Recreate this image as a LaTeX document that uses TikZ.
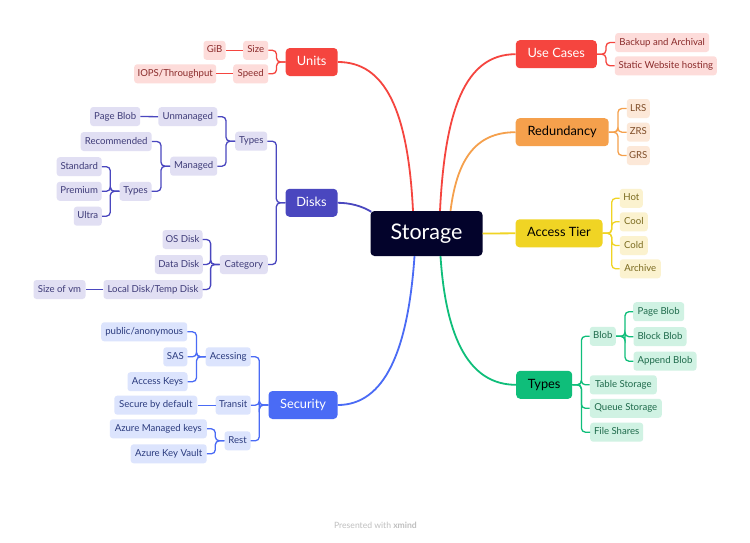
\documentclass[tikz,border=0pt]{standalone}
\usepackage{fontspec}
\setmainfont{Lato}
\usetikzlibrary{calc}
\definecolor{cRed}{HTML}{F5453F}
\definecolor{fRed}{HTML}{FDDCDA}
\definecolor{tRed}{HTML}{8A2A2A}
\definecolor{cPur}{HTML}{4A47BF}
\definecolor{fPur}{HTML}{E1DFF3}
\definecolor{tPur}{HTML}{3E3B78}
\definecolor{cBlu}{HTML}{4A6BF5}
\definecolor{fBlu}{HTML}{DCE4FD}
\definecolor{tBlu}{HTML}{2B3B7E}
\definecolor{cOra}{HTML}{F5A04C}
\definecolor{fOra}{HTML}{FCE8D8}
\definecolor{tOra}{HTML}{7D4B25}
\definecolor{cYel}{HTML}{F0D424}
\definecolor{fYel}{HTML}{FBF2CF}
\definecolor{tYel}{HTML}{7A6A1E}
\definecolor{cGre}{HTML}{0FBE7A}
\definecolor{fGre}{HTML}{D0F2E3}
\definecolor{tGre}{HTML}{1E6A4B}
\definecolor{cDark}{HTML}{03032B}
\tikzset{
  sub/.style={rounded corners=3pt, inner sep=0pt, minimum height=19pt,
    font=\fontsize{9.6}{10}\selectfont, text height=7pt, text depth=2pt},
  rsub/.style={sub, fill=fRed, text=tRed},
  psub/.style={sub, fill=fPur, text=tPur},
  bsub/.style={sub, fill=fBlu, text=tBlu},
  osub/.style={sub, fill=fOra, text=tOra},
  ysub/.style={sub, fill=fYel, text=tYel},
  gsub/.style={sub, fill=fGre, text=tGre},
  topic/.style={rounded corners=4pt, inner sep=0pt, minimum height=28pt,
    font=\fontsize{12.8}{13}\selectfont, text height=9pt, text depth=2.5pt},
  rlink/.style={draw=cRed, line width=1.3pt, rounded corners=4pt},
  plink/.style={draw=cPur, line width=1.3pt, rounded corners=4pt},
  blink/.style={draw=cBlu, line width=1.3pt, rounded corners=4pt},
  olink/.style={draw=cOra, line width=1.3pt, rounded corners=4pt},
  ylink/.style={draw=cYel, line width=1.3pt, rounded corners=4pt},
  glink/.style={draw=cGre, line width=1.3pt, rounded corners=4pt},
  main/.style={line width=1.8pt},
}
% elbow from a parent on the right to a child on the left
\newcommand{\lefttie}[3]{\draw[#1] (#2.west) -- ([xshift=-9pt]#2.west) |- (#3.east);}
% elbow from a parent on the left to a child on the right
\newcommand{\righttie}[3]{\draw[#1] (#2.east) -- ([xshift=9pt]#2.east) |- (#3.west);}
\begin{document}
\begin{tikzpicture}[x=1pt,y=-1pt]
\useasboundingbox[fill=white] (0,0) rectangle (750,542);

% central
\node[rounded corners=4pt, fill=cDark, text=white, minimum width=112pt, minimum height=45pt,
  inner sep=0pt, font=\fontsize{21.5}{23}\selectfont, text height=15pt, text depth=4pt] (storage) at (426.5,233.5) {Storage};

% ---------- Units ----------
\node[topic, fill=cRed, text=white, minimum width=52pt] (units) at (311.7,62) {Units};
\node[rsub, minimum width=25pt] (size) at (255.7,50.3) {Size};
\node[rsub, minimum width=22pt] (gib) at (214.5,50.3) {GiB};
\node[rsub, minimum width=35pt] (speed) at (250.7,73.8) {Speed};
\node[rsub, minimum width=82pt] (iops) at (175.2,73.8) {IOPS/Throughput};
\lefttie{rlink}{units}{size}
\lefttie{rlink}{units}{speed}
\draw[rlink] (size.west) -- (gib.east);
\draw[rlink] (speed.west) -- (iops.east);

% ---------- Disks ----------
\node[topic, fill=cPur, text=white, minimum width=52pt] (disks) at (311.5,202.8) {Disks};
\node[psub, minimum width=32pt] (dtypes) at (251.2,141.2) {Types};
\node[psub, minimum width=59pt] (unman) at (187.8,116.7) {Unmanaged};
\node[psub, minimum width=47pt] (man) at (193.7,166.2) {Managed};
\node[psub, minimum width=50pt] (pblob) at (115.2,116.5) {Page Blob};
\node[psub, minimum width=71pt] (recom) at (116.2,141.5) {Recommended};
\node[psub, minimum width=32pt] (mtypes) at (135.5,191.3) {Types};
\node[psub, minimum width=45pt] (std) at (79.2,166.7) {Standard};
\node[psub, minimum width=45pt] (prem) at (79.2,191.3) {Premium};
\node[psub, minimum width=28pt] (ultra) at (87.8,216.2) {Ultra};
\node[psub, minimum width=48pt] (cat) at (243.8,264.5) {Category};
\node[psub, minimum width=40pt] (osd) at (182.5,239.5) {OS Disk};
\node[psub, minimum width=48pt] (datad) at (178.8,264.5) {Data Disk};
\node[psub, minimum width=99pt] (local) at (153,289.5) {Local Disk/Temp Disk};
\node[psub, minimum width=52pt] (sizevm) at (59.5,289.5) {Size of vm};
\lefttie{plink}{disks}{dtypes}
\lefttie{plink}{disks}{cat}
\lefttie{plink}{dtypes}{unman}
\lefttie{plink}{dtypes}{man}
\draw[plink] (unman.west) -- (pblob.east);
\lefttie{plink}{man}{recom}
\lefttie{plink}{man}{mtypes}
\lefttie{plink}{mtypes}{std}
\lefttie{plink}{mtypes}{prem}
\lefttie{plink}{mtypes}{ultra}
\lefttie{plink}{cat}{osd}
\lefttie{plink}{cat}{datad}
\lefttie{plink}{cat}{local}
\draw[plink] (local.west) -- (sizevm.east);

% ---------- Security ----------
\node[topic, fill=cBlu, text=white, minimum width=69pt] (sec) at (303,405) {Security};
\node[bsub, minimum width=45pt] (acc) at (228.2,356.8) {Acessing};
\node[bsub, minimum width=35pt] (trans) at (233.2,405.2) {Transit};
\node[bsub, minimum width=26pt] (rest) at (237.5,440.8) {Rest};
\node[bsub, minimum width=86pt] (pub) at (144.2,331.8) {public/anonymous};
\node[bsub, minimum width=24pt] (sas) at (175.3,356.8) {SAS};
\node[bsub, minimum width=60pt] (akeys) at (157.5,381.7) {Access Keys};
\node[bsub, minimum width=83pt] (secdef) at (155.8,405.2) {Secure by default};
\node[bsub, minimum width=97pt] (amk) at (158.3,428.8) {Azure Managed keys};
\node[bsub, minimum width=76pt] (akv) at (168.7,453.8) {Azure Key Vault};
\lefttie{blink}{sec}{acc}
\lefttie{blink}{sec}{trans}
\lefttie{blink}{sec}{rest}
\lefttie{blink}{acc}{pub}
\lefttie{blink}{acc}{sas}
\lefttie{blink}{acc}{akeys}
\draw[blink] (trans.west) -- (secdef.east);
\lefttie{blink}{rest}{amk}
\lefttie{blink}{rest}{akv}

% ---------- Use Cases ----------
\node[topic, fill=cRed, text=white, minimum width=81pt] (use) at (556.3,54.2) {Use Cases};
\node[rsub, minimum width=94pt] (backup) at (662.2,42.5) {Backup and Archival};
\node[rsub, minimum width=102pt] (static) at (665.8,65.8) {Static Website hosting};
\righttie{rlink}{use}{backup}
\righttie{rlink}{use}{static}

% ---------- Redundancy ----------
\node[topic, fill=cOra, text=black, minimum width=93pt] (red) at (562.2,132.2) {Redundancy};
\node[osub, minimum width=23pt] (lrs) at (638.3,108.5) {LRS};
\node[osub, minimum width=23pt] (zrs) at (638.3,132.2) {ZRS};
\node[osub, minimum width=23pt] (grs) at (638.3,155.5) {GRS};
\righttie{olink}{red}{lrs}
\righttie{olink}{red}{zrs}
\righttie{olink}{red}{grs}

% ---------- Access Tier ----------
\node[topic, fill=cYel, text=black, minimum width=87pt] (tier) at (559,233.3) {Access Tier};
\node[ysub, minimum width=23pt] (hot) at (631.3,198.3) {Hot};
\node[ysub, minimum width=28pt] (cool) at (633.8,221.8) {Cool};
\node[ysub, minimum width=28pt] (cold) at (633.8,245.5) {Cold};
\node[ysub, minimum width=41pt] (arch) at (640.3,268.8) {Archive};
\righttie{ylink}{tier}{hot}
\righttie{ylink}{tier}{cool}
\righttie{ylink}{tier}{cold}
\righttie{ylink}{tier}{arch}

% ---------- Types ----------
\node[topic, fill=cGre, text=black, minimum width=56pt] (types) at (544.2,384.8) {Types};
\node[gsub, minimum width=26pt] (blob) at (602.8,336.3) {Blob};
\node[gsub, minimum width=67pt] (table) at (623.3,384.8) {Table Storage};
\node[gsub, minimum width=72pt] (queue) at (625.8,408.3) {Queue Storage};
\node[gsub, minimum width=53pt] (files) at (616.7,432.2) {File Shares};
\node[gsub, minimum width=51pt] (gpage) at (658.7,311.7) {Page Blob};
\node[gsub, minimum width=53pt] (gblock) at (660,336.7) {Block Blob};
\node[gsub, minimum width=63pt] (gappend) at (665,361.2) {Append Blob};
\righttie{glink}{types}{blob}
\righttie{glink}{types}{table}
\righttie{glink}{types}{queue}
\righttie{glink}{types}{files}
\righttie{glink}{blob}{gpage}
\righttie{glink}{blob}{gblock}
\righttie{glink}{blob}{gappend}

% ---------- main branches ----------
\coordinate (sUnits) at ([xshift=-13.5pt]storage.north);
\coordinate (sUse) at ([xshift=13.5pt]storage.north);
\coordinate (sRed) at ([xshift=24pt]storage.north);
\coordinate (sSec) at ([xshift=-12pt]storage.south);
\coordinate (sTypes) at ([xshift=14pt]storage.south);
\coordinate (sDisks) at ([xshift=1pt,yshift=-1pt]storage.north west);
\draw[main, cRed] (sUnits) .. controls (408,110) and (385,62) .. (units.east);
\draw[main, cRed] (sUse) .. controls (445,110) and (465,54.2) .. (use.west);
\draw[main, cOra] (sRed) .. controls (457,160) and (475,132.2) .. (red.west);
\draw[main, cYel] (storage.east) -- (tier.west);
\draw[main, cPur] (sDisks) .. controls (362,206) and (350,202.8) .. (disks.east);
\draw[main, cBlu] (sSec) .. controls (408,350) and (385,405) .. (sec.east);
\draw[main, cGre] (sTypes) .. controls (446,340) and (470,384.8) .. (types.west);

% footer
\node[text=black!25, font=\fontsize{8.6}{9}\selectfont] (footer) at (375.5,525)
  {Presented with \textbf{xmind}};
\end{tikzpicture}
\end{document}
